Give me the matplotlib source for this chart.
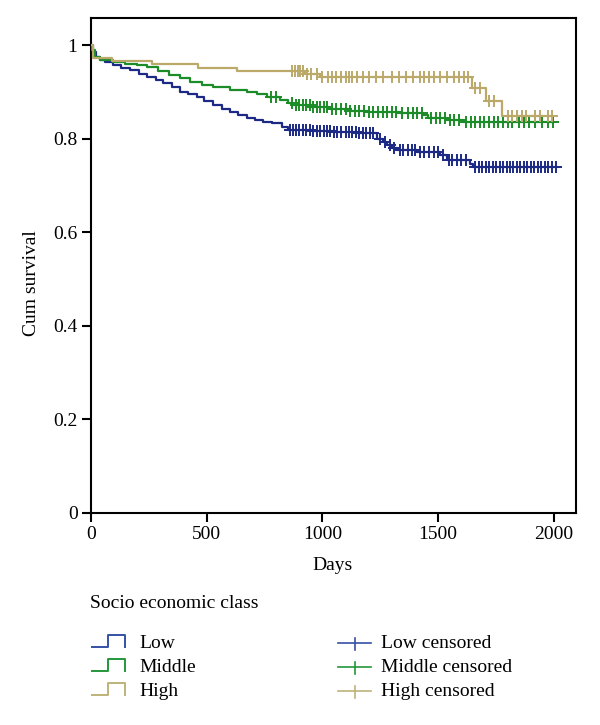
import numpy as np
import matplotlib
matplotlib.use('Agg')
import matplotlib.pyplot as plt
from matplotlib.lines import Line2D

plt.rcParams['font.family'] = ['Liberation Serif', 'DejaVu Serif']

# ---------------- data ----------------
groups = ['Low', 'Middle', 'High']
colors = {'Low': '#1c2a86', 'Middle': '#1b8c27', 'High': '#bba96a'}
legend_colors = {'Low': '#3550a6', 'Middle': '#23973a', 'High': '#bfb27a'}

low_times = [0, 10, 25, 40, 60, 98, 130, 170, 210, 242, 280, 314, 350, 386, 420,
             458, 490, 529, 565, 601, 637, 673, 709, 745, 781, 824, 853, 960, 1047,
             1150, 1235, 1260, 1278, 1300, 1321, 1408, 1508, 1537, 1638, 1652]
low_surv = [1.0, 0.985, 0.975, 0.968, 0.964, 0.957, 0.950, 0.946, 0.938, 0.932, 0.925,
            0.918, 0.910, 0.900, 0.895, 0.889, 0.880, 0.871, 0.864, 0.857, 0.850, 0.843,
            0.839, 0.836, 0.834, 0.824, 0.819, 0.816, 0.814, 0.811, 0.800, 0.793, 0.786,
            0.780, 0.775, 0.771, 0.764, 0.754, 0.746, 0.739]
low_end = 2010

mid_times = [0, 5, 20, 40, 97, 150, 200, 242, 290, 340, 386, 430, 480, 529, 600, 673,
             720, 760, 817, 850, 874, 950, 1033, 1120, 1191, 1335, 1436, 1457, 1540, 1608]
mid_surv = [1.0, 0.990, 0.975, 0.968, 0.964, 0.960, 0.957, 0.953, 0.945, 0.937, 0.929,
            0.921, 0.915, 0.911, 0.905, 0.900, 0.895, 0.889, 0.882, 0.876, 0.871, 0.868,
            0.864, 0.860, 0.857, 0.854, 0.850, 0.843, 0.840, 0.836]
mid_end = 1995

high_times = [0, 10, 90, 263, 465, 630, 925, 990, 1645, 1705, 1775]
high_surv = [1.0, 0.973, 0.966, 0.959, 0.952, 0.945, 0.939, 0.932, 0.909, 0.881, 0.848]
high_end = 1990

low_censored = [860, 875, 885, 900, 915, 930, 945, 960, 975, 990, 1005, 1020, 1035, 1050,
                1065, 1080, 1100, 1115, 1130, 1145, 1160, 1175, 1190, 1205, 1220, 1250,
                1270, 1290, 1310, 1335, 1350, 1370, 1385, 1400, 1420, 1440, 1460, 1480,
                1500, 1520, 1545, 1560, 1580, 1600, 1620, 1660, 1675, 1690, 1705, 1720,
                1735, 1750, 1765, 1780, 1795, 1810, 1825, 1840, 1855, 1870, 1885, 1900,
                1915, 1930, 1945, 1960, 1975, 1990, 2010]
mid_censored = [780, 800, 870, 885, 900, 915, 930, 945, 960, 975, 990, 1005, 1020, 1040,
                1060, 1080, 1100, 1120, 1140, 1160, 1180, 1200, 1220, 1240, 1260, 1280,
                1300, 1320, 1345, 1370, 1390, 1410, 1430, 1470, 1490, 1510, 1530, 1550,
                1570, 1590, 1620, 1640, 1660, 1680, 1700, 1720, 1740, 1760, 1780, 1800,
                1820, 1850, 1870, 1890, 1920, 1950, 1975, 1995]
high_censored = [870, 880, 895, 905, 915, 935, 950, 975, 1000, 1025, 1040, 1060, 1080,
                 1100, 1115, 1130, 1150, 1175, 1200, 1230, 1260, 1300, 1330, 1360, 1390,
                 1420, 1440, 1460, 1480, 1510, 1540, 1570, 1590, 1610, 1630, 1660, 1680,
                 1720, 1740, 1800, 1820, 1840, 1860, 1880, 1920, 1940, 1975, 1990]

x_ticks = [0, 500, 1000, 1500, 2000]
y_ticks = [0, 0.2, 0.4, 0.6, 0.8, 1.0]
y_tick_labels = ['0', '0.2', '0.4', '0.6', '0.8', '1']

series = {
    'Low': (low_times, low_surv, low_end, low_censored),
    'Middle': (mid_times, mid_surv, mid_end, mid_censored),
    'High': (high_times, high_surv, high_end, high_censored),
}

# ---------------- figure ----------------
W, H = 600, 725
fig = plt.figure(figsize=(W / 100, H / 100), dpi=100)
FS = 14


def fx(px):
    return px / W


def fy(py):
    return 1 - py / H


ax = fig.add_axes([fx(90.7), fy(512.5), fx(576) - fx(90.7), fy(18) - fy(512.5)])

for g in groups:
    t, s, end, cens = series[g]
    ts = list(t) + [end]
    ss = list(s) + [s[-1]]
    ax.step(ts, ss, where='post', color=colors[g], lw=1.6, zorder=3)
    t_arr = np.asarray(t)
    s_arr = np.asarray(s)
    idx = np.searchsorted(t_arr, np.asarray(cens), side='right') - 1
    ax.plot(cens, s_arr[idx], linestyle='none', marker='+', markersize=8,
            markeredgewidth=1.4, color=colors[g], zorder=4)

ax.set_xlim(0, 2095)
ax.set_ylim(0, 1.058)
ax.set_xticks(x_ticks)
ax.set_xticklabels([str(v) for v in x_ticks])
ax.set_yticks(y_ticks)
ax.set_yticklabels(y_tick_labels)
ax.tick_params(direction='out', length=6.5, width=1.5, labelsize=FS, pad=3)
for sp in ax.spines.values():
    sp.set_linewidth(1.5)

fig.text(fx(333), fy(566), 'Days', ha='center', va='center', fontsize=FS)
fig.text(fx(32), fy(283), 'Cum survival', ha='center', va='center',
         rotation=90, fontsize=FS)

# ---------------- legend ----------------
fig.text(fx(90), fy(604), 'Socio economic class', ha='left', va='center', fontsize=FS)
rows = [643, 667, 691]
for g, yr in zip(groups, rows):
    yb = yr + 4
    yt = yr - 8
    xs = [92, 108, 108, 125, 125]
    ys = [yb, yb, yt, yt, yb]
    fig.add_artist(Line2D([fx(v) for v in xs], [fy(v) for v in ys],
                          color=legend_colors[g], lw=1.4, transform=fig.transFigure))
    fig.text(fx(139), fy(yr), g, ha='left', va='center', fontsize=FS)

    fig.add_artist(Line2D([fx(338), fx(371)], [fy(yr), fy(yr)],
                          color=legend_colors[g], lw=1.2, transform=fig.transFigure))
    fig.add_artist(Line2D([fx(354.5), fx(354.5)], [fy(yr - 5), fy(yr + 7)],
                          color=legend_colors[g], lw=1.2, transform=fig.transFigure))
    fig.text(fx(381), fy(yr), g + ' censored', ha='left', va='center', fontsize=FS)

fig.savefig('out.png', dpi=100)
